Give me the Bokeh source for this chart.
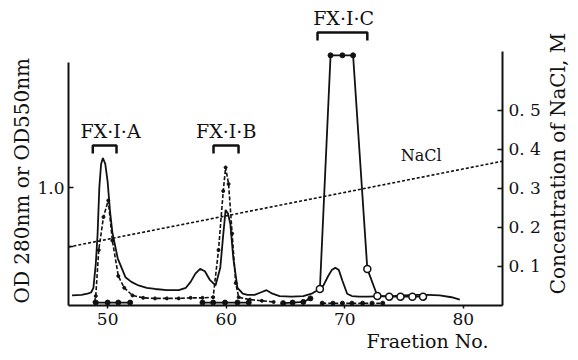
from bokeh.plotting import figure
from bokeh.layouts import row
from bokeh.models import Range1d, LinearAxis, FixedTicker, Label, Title
from bokeh.embed import file_html
from bokeh.resources import INLINE
import math

FONT = "DejaVu Serif"
INK = "#111111"

# ---- data ----
# OD 280 nm (solid smooth curve)
od280_frac = [47.0, 47.8, 48.3, 48.6, 48.8, 49.0, 49.15, 49.3, 49.45, 49.6, 49.8, 50.0, 50.2,
              50.4, 50.85, 51.5, 52.0, 52.6, 53.3, 54.0, 55.0, 56.0, 56.6, 57.0, 57.4, 57.8,
              58.2, 58.6, 59.1, 59.5, 59.75, 59.95, 60.15, 60.35, 60.6, 60.95, 61.4, 61.8,
              62.4, 62.9, 63.4, 63.9, 64.5, 65.5, 66.5, 67.2, 67.7, 68.2, 68.6, 68.9, 69.2,
              69.5, 69.8, 70.2, 70.6, 71.2, 72.0, 73.0, 74.0, 75.0, 76.0, 77.0, 78.0, 79.0, 79.7]
od280 = [0.085, 0.09, 0.10, 0.11, 0.15, 0.35, 0.60, 1.00, 1.20, 1.25, 1.20, 1.05, 0.80,
         0.62, 0.40, 0.24, 0.20, 0.17, 0.15, 0.14, 0.13, 0.13, 0.15, 0.20, 0.27, 0.31,
         0.29, 0.22, 0.17, 0.32, 0.60, 0.81, 0.78, 0.69, 0.40, 0.15, 0.10, 0.09,
         0.09, 0.11, 0.13, 0.10, 0.08, 0.075, 0.08, 0.10, 0.13, 0.17, 0.25, 0.30, 0.32,
         0.30, 0.21, 0.10, 0.08, 0.075, 0.075, 0.08, 0.08, 0.085, 0.09, 0.09, 0.085, 0.07, 0.05]

# OD 550 nm (dashed curve with dots)
od550_frac = [48.9, 49.0, 49.25, 49.65, 50.05, 50.4, 50.9, 51.4, 52.1, 53.0, 54.0, 55.0, 56.0,
              57.0, 58.0, 58.9, 59.35, 59.75, 59.95, 60.2, 60.5, 60.8, 61.05, 62.0, 63.0, 64.0]
od550 = [0.03, 0.08, 0.47, 0.75, 0.89, 0.55, 0.25, 0.15, 0.085, 0.065, 0.06, 0.06, 0.06,
         0.065, 0.065, 0.07, 0.47, 0.97, 1.17, 1.03, 0.61, 0.19, 0.07, 0.05, 0.04, 0.03]

# FX-I-C peak (solid with markers, off-scale top)
pkc_frac = [67.9, 68.8, 69.8, 70.7, 71.9, 72.75, 73.75, 74.7, 75.7, 76.6]
pkc = [0.14, 2.12, 2.12, 2.12, 0.31, 0.08, 0.075, 0.075, 0.075, 0.075]
pkc_top = [False, True, True, True, False, False, False, False, False, False]

# fraction series near the baseline (NaN separates groups)
base_frac = [49.0, 50.0, 50.9, 51.9, float("nan"), 58.0, 58.9, 59.9, 60.95, 61.9,
             float("nan"), 64.8, 65.6, 66.5, 67.1]
base = [0.025, 0.025, 0.025, 0.025, float("nan"), 0.025, 0.025, 0.025, 0.025, 0.025,
        float("nan"), 0.02, 0.025, 0.03, 0.06]
base2_frac = [68.1, 69.0, 69.8, 70.6, 71.5, 72.3, 73.2]
base2 = [0.02, 0.02, 0.02, 0.02, 0.02, 0.02, 0.02]

# NaCl gradient (right axis)
nacl_frac = [46.7, 83.3]
nacl = [0.15, 0.37]

# pooled fractions
pool_names = ["FX\u00b7I\u00b7A", "FX\u00b7I\u00b7B", "FX\u00b7I\u00b7C"]
pool_start = [48.75, 58.93, 67.7]
pool_end = [50.75, 61.04, 71.9]
pool_label_x = [50.25, 60.0, 69.9]

x_ticks = [50, 60, 70, 80]
left_ticks = [0.5, 1.0]
right_ticks = [0.1, 0.2, 0.3, 0.4, 0.5]

H = 358
p = figure(width=546, height=H, x_range=Range1d(46.7, 83.3), y_range=Range1d(0, 2.517),
           output_backend="svg", toolbar_location=None,
           min_border_left=68, min_border_right=44, min_border_top=8, min_border_bottom=53)
p.extra_y_ranges = {"nacl": Range1d(0, 0.7615)}
p.outline_line_color = None
p.xgrid.visible = False
p.ygrid.visible = False
p.background_fill_color = "white"

# axes
xa = p.xaxis[0]
xa.ticker = FixedTicker(ticks=x_ticks)
ya = p.yaxis[0]
ya.ticker = FixedTicker(ticks=left_ticks)
ya.major_label_overrides = {0.5: "", 1.0: "1.0"}
ya.bounds = (0, 2.06)
ra = LinearAxis(y_range_name="nacl", ticker=FixedTicker(ticks=right_ticks), bounds=(0, 0.65))
ra.major_label_overrides = {t: "0. %d" % round(t * 10) for t in right_ticks}
p.add_layout(ra, "right")

for ax in (xa, ya, ra):
    ax.axis_line_color = INK
    ax.axis_line_width = 2
    ax.major_tick_line_color = INK
    ax.major_tick_line_width = 1.5
    ax.minor_tick_line_color = None
    ax.major_label_text_font = FONT
    ax.major_label_text_font_size = "17px"
    ax.major_label_text_color = INK
xa.major_tick_in = 0
xa.major_tick_out = 3
xa.major_label_standoff = 4
ya.major_tick_in = 5
ya.major_tick_out = 0
ya.major_label_standoff = 4
ra.major_tick_in = 5
ra.major_tick_out = 0
ra.major_label_standoff = 6

# axis titles placed as side titles so they can be aligned like the original
p.add_layout(Title(text="Fraetion No.", align="right", offset=14, standoff=0,
                   text_font=FONT, text_font_size="19px", text_font_style="normal",
                   text_color=INK), "below")
p.add_layout(Title(text="OD 280nm or OD550nm", align="left", offset=2, standoff=2,
                   text_font=FONT, text_font_size="20px", text_font_style="normal",
                   text_color=INK), "left")

# series
p.line(od280_frac, od280, line_color=INK, line_width=1.8)
p.line(od550_frac, od550, line_color=INK, line_width=1.6, line_dash="4 2")
p.scatter(od550_frac, od550, size=3, color=INK)
p.line(pkc_frac, pkc, line_color=INK, line_width=1.8)
top_x = [f for f, t in zip(pkc_frac, pkc_top) if t]
top_y = [v for v, t in zip(pkc, pkc_top) if t]
low_x = [f for f, t in zip(pkc_frac, pkc_top) if not t]
low_y = [v for v, t in zip(pkc, pkc_top) if not t]
p.scatter(top_x, top_y, size=5, color=INK)
p.scatter(low_x, low_y, size=7, fill_color="white", line_color=INK, line_width=1.5)
p.line(base_frac, base, line_color=INK, line_width=1.8)
p.scatter(base_frac, base, size=5, color=INK)
p.line(base2_frac, base2, line_color=INK, line_width=1.5, line_dash="4 2")
p.scatter(base2_frac, base2, size=4, color=INK)
p.line(nacl_frac, nacl, y_range_name="nacl", line_color=INK, line_width=1.6, line_dash="3 2")

# pooled-fraction brackets and labels
bracket_top = [1.356, 1.356, 2.314]
bracket_leg = 0.068
label_y = [1.483, 1.483, 2.436]
xs = [[a, a, b, b] for a, b in zip(pool_start, pool_end)]
ys = [[t - bracket_leg, t, t, t - bracket_leg] for t in bracket_top]
p.multi_line(xs, ys, line_color=INK, line_width=2.5)
for name, lx, ly in zip(pool_names, pool_label_x, label_y):
    p.add_layout(Label(x=lx, y=ly, text=name, text_align="center", text_baseline="middle",
                       text_font=FONT, text_font_size="19px", text_color=INK))

p.add_layout(Label(x=76.45, y=1.27, text="NaCl", text_align="center", text_baseline="middle",
                   text_font=FONT, text_font_size="16px", text_color=INK))

# right-hand axis title in a narrow companion panel (reads upward); its frame
# is aligned with the main frame (297 px tall), so map it 1:1 to pixels
FH = 297
q = figure(width=24, height=H, x_range=Range1d(0, 24), y_range=Range1d(0, FH),
           output_backend="svg", toolbar_location=None, x_axis_type=None, y_axis_type=None,
           min_border=0)
q.outline_line_color = None
q.xgrid.visible = False
q.ygrid.visible = False
q.add_layout(Label(x=11, y=FH - 155, text="Concentration of NaCl, M", angle=math.pi / 2,
                   text_align="center", text_baseline="middle", text_font=FONT,
                   text_font_size="20px", text_color=INK))

layout = row(p, q)
open("out.html", "w").write(file_html(layout, INLINE))
